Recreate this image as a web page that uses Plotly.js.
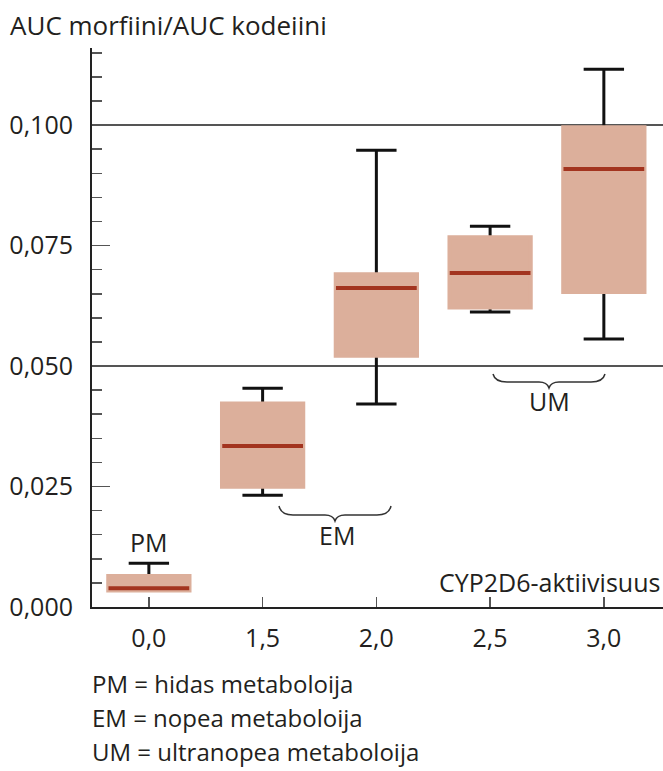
<!DOCTYPE html>
<html>
<head>
<meta charset="utf-8">
<script src="https://cdn.plot.ly/plotly-3.0.1.min.js"></script>
<style>html,body{margin:0;padding:0;background:#fff;}#chart{width:663px;height:771px;}</style>
</head>
<body>
<div id="chart"></div>
<script>
// ---- data ----
const categories = ['0,0', '1,5', '2,0', '2,5', '3,0'];
const q1Values     = [0.0035, 0.0250, 0.0522, 0.0622, 0.0654];
const medianValues = [0.0039, 0.0334, 0.0662, 0.0693, 0.0909];
const q3Values     = [0.0064, 0.0422, 0.0690, 0.0767, 0.0995];
const lowerValues  = [0.0035, 0.0232, 0.0421, 0.0612, 0.0556];
const upperValues  = [0.0091, 0.0454, 0.0948, 0.0790, 0.1116];
const yTickLabelsFormat = '.3f';
const groupLabels = ['PM', 'EM', 'UM'];
const legendLines = ['PM = hidas metaboloija', 'EM = nopea metaboloija', 'UM = ultranopea metaboloija'];
const yTitle = 'AUC morfiini/AUC kodeiini';
const xTitle = 'CYP2D6-aktiivisuus';

// ---- styling ----
const FONT = 'Open Sans, Noto Sans, sans-serif';
const TXT = '#231f20';
const FILL = '#dcaf9b';
const MED = '#a3341f';
const L = 92, T = 48, W = 571, H = 559;
const px = x => (x - L) / W;
const py = y => (T + H - y) / H;
const BW = 0.71;

const whiskers = {
  type: 'box', x: categories, q1: q1Values, median: medianValues, q3: q3Values,
  lowerfence: lowerValues, upperfence: upperValues,
  width: BW, whiskerwidth: 0.5, boxpoints: false,
  line: {color: '#111', width: 3}, fillcolor: 'rgba(0,0,0,0)',
  hoverinfo: 'skip', showlegend: false
};
const boxes = {
  type: 'box', x: categories, q1: q1Values, median: q1Values, q3: q3Values,
  lowerfence: q1Values, upperfence: q3Values,
  width: BW, whiskerwidth: 0, boxpoints: false,
  line: {color: FILL, width: 4.5}, fillcolor: FILL,
  hoverinfo: 'skip', showlegend: false
};
const medians = {
  type: 'box', x: categories, q1: medianValues, median: medianValues, q3: medianValues,
  lowerfence: medianValues, upperfence: medianValues,
  width: BW, whiskerwidth: 0, boxpoints: false,
  line: {color: MED, width: 4}, fillcolor: MED,
  hoverinfo: 'skip', showlegend: false
};
const gridHolder = {type: 'scatter', x: [], y: [], yaxis: 'y2', showlegend: false, hoverinfo: 'skip'};

function brace(x0, x1, yTop, yLevel, yTip) {
  const xm = (x0 + x1) / 2;
  const pts = [
    ['M', x0, yTop], ['Q', x0 + 2, yLevel], [null, x0 + 14, yLevel],
    ['L', xm - 10, yLevel], ['Q', xm - 2, yLevel], [null, xm, yTip],
    ['Q', xm + 2, yLevel], [null, xm + 10, yLevel],
    ['L', x1 - 14, yLevel], ['Q', x1 - 2, yLevel], [null, x1, yTop]
  ];
  return pts.map(p => (p[0] ? p[0] + ' ' : '') + px(p[1]).toFixed(5) + ',' + py(p[2]).toFixed(5)).join(' ');
}

const annotations = [
  {text: yTitle, xref: 'paper', yref: 'paper', x: px(8), y: py(25), xanchor: 'left', yanchor: 'middle', showarrow: false, font: {size: 26}},
  {text: xTitle, xref: 'paper', yref: 'paper', x: px(662), y: py(582), xanchor: 'right', yanchor: 'middle', showarrow: false, font: {size: 25}},
  {text: groupLabels[0], xref: 'x', yref: 'paper', x: categories[0], y: py(542), xanchor: 'center', yanchor: 'middle', showarrow: false, font: {size: 25}},
  {text: groupLabels[1], xref: 'paper', yref: 'paper', x: px(337), y: py(535), xanchor: 'center', yanchor: 'middle', showarrow: false, font: {size: 25}},
  {text: groupLabels[2], xref: 'paper', yref: 'paper', x: px(549), y: py(401), xanchor: 'center', yanchor: 'middle', showarrow: false, font: {size: 25}}
];
legendLines.forEach((t, i) => annotations.push({
  text: t, xref: 'paper', yref: 'paper', x: px(90), y: py(683 + 34 * i), xanchor: 'left', yanchor: 'middle',
  showarrow: false, font: {size: 24}
}));

const layout = {
  width: 663, height: 771,
  margin: {l: L, r: 663 - L - W, t: T, b: 771 - T - H, pad: 0},
  paper_bgcolor: '#fff', plot_bgcolor: '#fff',
  font: {family: FONT, color: TXT, size: 25},
  separators: ', ',
  showlegend: false,
  boxmode: 'overlay',
  xaxis: {
    type: 'category', categoryorder: 'array', categoryarray: categories,
    range: [-0.5, 4.52], showgrid: false, zeroline: false,
    showline: true, linecolor: '#222', linewidth: 2,
    ticks: 'inside', ticklen: 10, tickwidth: 1.5, tickcolor: '#555',
    ticklabelstandoff: 8, tickfont: {size: 25, color: TXT}
  },
  yaxis: {
    range: [0, 0.116], tickmode: 'linear', tick0: 0, dtick: 0.025, tickformat: yTickLabelsFormat,
    showgrid: false, zeroline: false,
    showline: true, linecolor: '#222', linewidth: 2,
    ticks: 'inside', ticklen: 18, tickwidth: 1.5, tickcolor: '#555',
    minor: {tickmode: 'linear', tick0: 0, dtick: 0.005, ticks: 'inside', ticklen: 10, tickwidth: 1.5, tickcolor: '#555', showgrid: false},
    ticklabelstandoff: 12, tickfont: {size: 25, color: TXT}
  },
  yaxis2: {
    overlaying: 'y', side: 'left', range: [0, 0.116], tickmode: 'linear', tick0: 0, dtick: 0.05,
    showgrid: true, gridcolor: '#555', gridwidth: 1.5, showticklabels: false, ticks: '',
    zeroline: false, showline: false
  },
  shapes: [
    {type: 'path', xref: 'paper', yref: 'paper', path: brace(279, 391, 506, 515, 521), line: {color: '#333', width: 1.5}},
    {type: 'path', xref: 'paper', yref: 'paper', path: brace(493, 605, 374, 382, 388), line: {color: '#333', width: 1.5}}
  ],
  annotations: annotations
};

Plotly.newPlot('chart', [gridHolder, whiskers, boxes, medians], layout, {staticPlot: true, displayModeBar: false});
</script>
</body>
</html>
